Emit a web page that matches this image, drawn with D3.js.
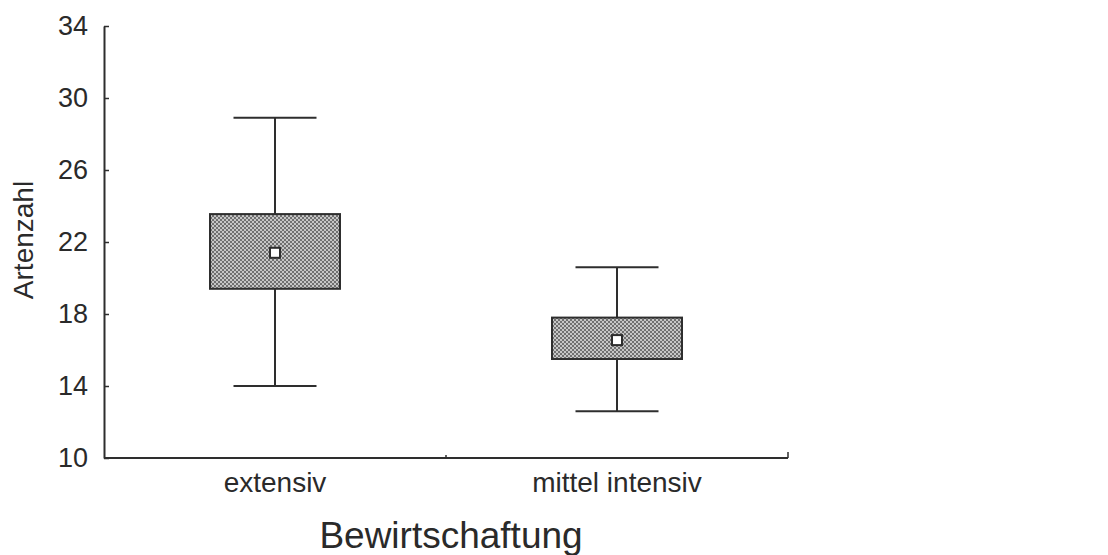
<!DOCTYPE html>
<html>
<head>
<meta charset="utf-8">
<script src="https://cdn.jsdelivr.net/npm/d3@7"></script>
<style>
  body { margin: 0; background: #fff; }
  text { font-family: "Liberation Sans", Arial, sans-serif; fill: #2a2a2a; }
</style>
</head>
<body>
<div id="chart"></div>
<script>
const width = 1108
const height = 555
const margin = { top: 26, right: 320, bottom: 97, left: 104 }

// data
const categories = ["extensiv", "mittel intensiv"]
const whiskerLow = [14.0, 12.6]
const q1 = [19.4, 15.5]
const q3 = [23.55, 17.8]
const whiskerHigh = [28.9, 20.6]
const means = [21.4, 16.55]
const yTicks = [10, 14, 18, 22, 26, 30, 34]

const data = categories.map((c, i) => ({
    cat: c, lo: whiskerLow[i], q1: q1[i], q3: q3[i], hi: whiskerHigh[i], mean: means[i]
}))

const svg = d3.select("div#chart").append("svg").attr("width", width).attr("height", height)

// cross-hatched grey fill
const defs = svg.append("defs")
const pat = defs.append("pattern").attr("id", "hatch")
    .attr("patternUnits", "userSpaceOnUse").attr("width", 4).attr("height", 4)
pat.append("rect").attr("width", 4).attr("height", 4).attr("fill", "#c6c6c6")
const dots = [[0, 0], [1, 1], [2, 2], [3, 3], [3, 0], [2, 1], [1, 2], [0, 3]]
pat.selectAll("rect.d").data(dots).enter().append("rect")
    .attr("class", "d")
    .attr("x", d => d[0]).attr("y", d => d[1]).attr("width", 1).attr("height", 1)
    .attr("fill", "#707070")

const innerW = width - margin.left - margin.right
const innerH = height - margin.top - margin.bottom

const x = d3.scaleBand().domain(categories).range([0, innerW])
const y = d3.scaleLinear().domain([10, 34]).range([innerH, 0])

const g = svg.append("g").attr("transform", `translate(${margin.left}, ${margin.top})`)

// y axis, ticks pointing inward
const yAxisGroup = g.append("g").attr("class", "yAxisGroup")
    .call(d3.axisRight(y).tickValues(yTicks).tickSize(5).tickSizeOuter(0))
yAxisGroup.attr("font-size", null).attr("font-family", null)
yAxisGroup.select(".domain").attr("stroke", "#2e2e2e").attr("stroke-width", 2)
yAxisGroup.selectAll(".tick line").attr("stroke", "#2e2e2e").attr("stroke-width", 1.5)
yAxisGroup.selectAll(".tick text")
    .attr("x", -16).attr("text-anchor", "end")
    .style("font-size", "27px").attr("fill", "#2a2a2a")

// x axis with small upward ticks at band edges
const xAxisGroup = g.append("g").attr("class", "xAxisGroup")
    .attr("transform", `translate(0, ${innerH})`)
xAxisGroup.append("line").attr("x1", 0).attr("x2", innerW)
    .attr("stroke", "#2e2e2e").attr("stroke-width", 2)
xAxisGroup.selectAll("line.edge").data(categories).enter().append("line")
    .attr("class", "edge")
    .attr("x1", d => x(d) + x.bandwidth()).attr("x2", d => x(d) + x.bandwidth())
    .attr("y1", 0).attr("y2", (d, i) => i === categories.length - 1 ? -6 : -3)
    .attr("stroke", "#2e2e2e").attr("stroke-width", 1.5)
xAxisGroup.selectAll("text.cat").data(categories).enter().append("text")
    .attr("class", "cat")
    .attr("x", d => x(d) + x.bandwidth() / 2)
    .attr("y", 34)
    .attr("text-anchor", "middle")
    .style("font-size", "28px")
    .text(d => d)

// boxes
const boxW = 130
const capW = 83
const boxes = g.selectAll("g.box").data(data).enter().append("g").attr("class", "box")
    .attr("transform", d => `translate(${x(d.cat) + x.bandwidth() / 2}, 0)`)

boxes.append("line").attr("x1", 0).attr("x2", 0)
    .attr("y1", d => y(d.hi)).attr("y2", d => y(d.lo))
    .attr("stroke", "#2e2e2e").attr("stroke-width", 2)
boxes.append("line").attr("x1", -capW / 2).attr("x2", capW / 2)
    .attr("y1", d => y(d.hi)).attr("y2", d => y(d.hi))
    .attr("stroke", "#2e2e2e").attr("stroke-width", 2)
boxes.append("line").attr("x1", -capW / 2).attr("x2", capW / 2)
    .attr("y1", d => y(d.lo)).attr("y2", d => y(d.lo))
    .attr("stroke", "#2e2e2e").attr("stroke-width", 2)
boxes.append("rect")
    .attr("x", -boxW / 2).attr("width", boxW)
    .attr("y", d => y(d.q3)).attr("height", d => y(d.q1) - y(d.q3))
    .attr("fill", "url(#hatch)").attr("stroke", "#2e2e2e").attr("stroke-width", 2)
boxes.append("rect")
    .attr("x", -5).attr("width", 10)
    .attr("y", d => y(d.mean) - 5).attr("height", 10)
    .attr("fill", "#fff").attr("stroke", "#2e2e2e").attr("stroke-width", 2)

// axis titles
svg.append("text")
    .attr("x", 451).attr("y", 548)
    .attr("text-anchor", "middle")
    .style("font-size", "37px")
    .text("Bewirtschaftung")

svg.append("text")
    .attr("transform", "translate(33, 240) rotate(-90)")
    .attr("text-anchor", "middle")
    .style("font-size", "28px")
    .text("Artenzahl")
</script>
</body>
</html>
